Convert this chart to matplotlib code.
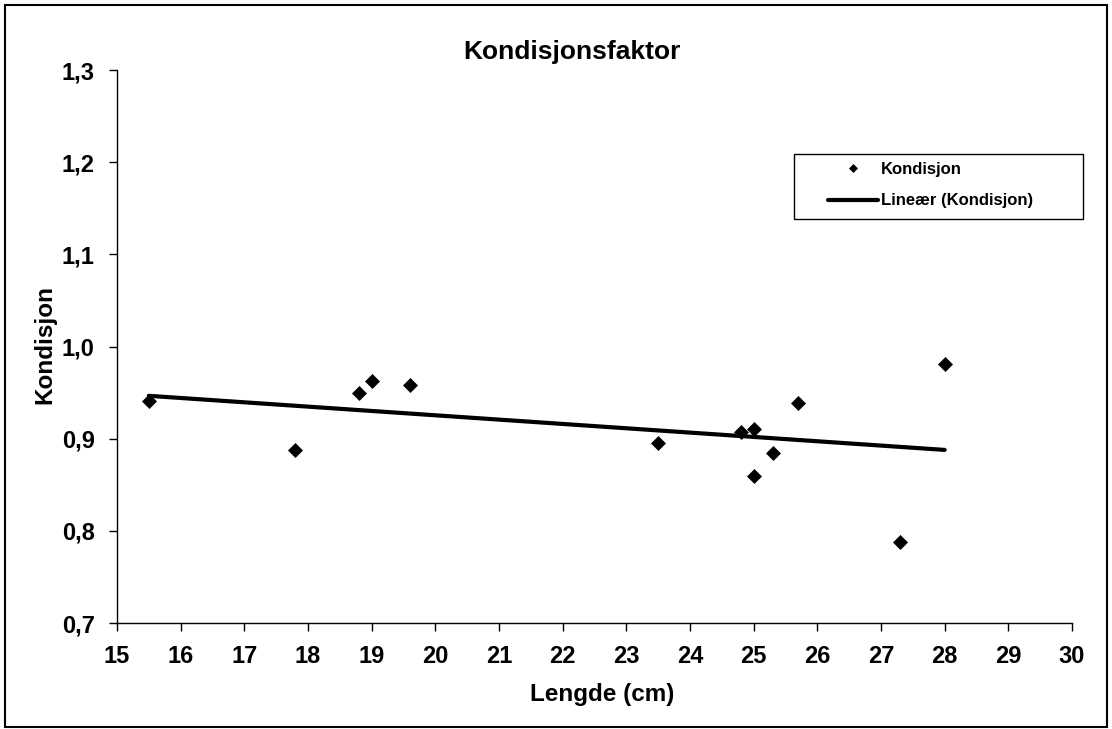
import matplotlib
matplotlib.use("Agg")
import matplotlib.pyplot as plt
import matplotlib.patches as patches
from matplotlib.ticker import FuncFormatter
import numpy as np

plt.rcParams['font.family'] = ['Liberation Sans', 'DejaVu Sans']
plt.rcParams['font.weight'] = 'bold'

# data
lengde = [15.5, 17.8, 18.8, 19.0, 19.6, 23.5, 24.8, 25.0, 25.0, 25.3, 25.7, 27.3, 28.0]
kondisjon = [0.941, 0.888, 0.950, 0.963, 0.958, 0.895, 0.907, 0.911, 0.859,
             0.884, 0.939, 0.788, 0.981]
x_ticks = list(range(15, 31))
y_ticks = [0.7, 0.8, 0.9, 1.0, 1.1, 1.2, 1.3]

W, H = 1112, 729
fig = plt.figure(figsize=(W / 100, H / 100), dpi=100)
ax = fig.add_axes([117 / W, 1 - 623 / H, (1072 - 117) / W, (623 - 70) / H])

ax.plot(lengde, kondisjon, linestyle='none', marker='D', markersize=6.8,
        color='black', markeredgewidth=0.5, label='Kondisjon', zorder=3)

# linear trendline (Excel "Lineær")
k, m = np.polyfit(lengde, kondisjon, 1)
xt = np.array([min(lengde), max(lengde)])
ax.plot(xt, k * xt + m, color='black', linewidth=3, label='Lineær (Kondisjon)',
        solid_capstyle='round', zorder=2)

ax.set_xlim(15, 30)
ax.set_ylim(0.7, 1.3)
ax.set_xticks(x_ticks)
ax.set_yticks(y_ticks)
ax.yaxis.set_major_formatter(FuncFormatter(lambda v, p: f"{v:.1f}".replace('.', ',')))
ax.tick_params(direction='out', length=6, width=1, labelsize=17, pad=10, color='black')
for lab in ax.get_xticklabels() + ax.get_yticklabels():
    lab.set_fontweight('bold')

for s in ['top', 'right']:
    ax.spines[s].set_visible(False)
for s in ['left', 'bottom']:
    ax.spines[s].set_linewidth(1)

fig.text(572 / W, 1 - 52 / H, 'Kondisjonsfaktor', ha='center', va='center',
         fontsize=19, fontweight='bold')
fig.text(602 / W, 1 - 695 / H, 'Lengde (cm)', ha='center', va='center',
         fontsize=17.5, fontweight='bold')
fig.text(45 / W, 1 - 345 / H, 'Kondisjon', ha='center', va='center',
         rotation=90, fontsize=17.5, fontweight='bold')

# legend entries without frame, box drawn separately
leg = ax.legend(loc='upper left', bbox_to_anchor=(0.7445, 0.834),
                borderaxespad=0, borderpad=0, frameon=False,
                prop={'size': 12, 'weight': 'bold'},
                markerscale=0.55, handlelength=3.0, handletextpad=0.2,
                labelspacing=1.0)
leg.set_clip_on(False)
ax.add_patch(patches.Rectangle((0.709, 0.7306), 0.3026, 0.1175,
                               transform=ax.transAxes, fill=False,
                               edgecolor='black', linewidth=1, clip_on=False,
                               zorder=4))

fig.patches.append(patches.Rectangle((5 / W, 2 / H), 1102 / W, 722 / H,
                                     transform=fig.transFigure, fill=False,
                                     edgecolor='black', linewidth=1.5))

fig.savefig('out.png', dpi=100)
